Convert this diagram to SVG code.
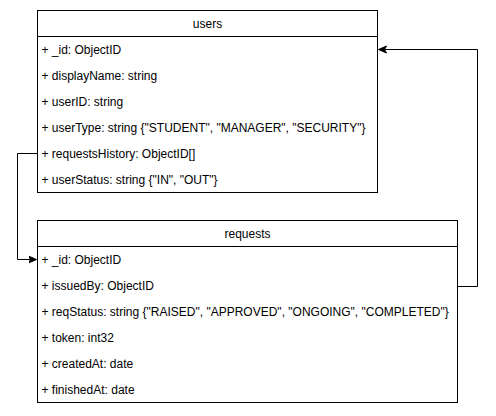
<svg xmlns="http://www.w3.org/2000/svg" width="496" height="416" viewBox="0 0 496 416">
<style>
.box{fill:#fff;stroke:#000;stroke-width:1}
.t{font-family:"Liberation Sans",Arial,Helvetica,sans-serif;font-size:12px;fill:#000;dominant-baseline:central}
.h{text-anchor:middle}
.c{fill:none;stroke:#000;stroke-width:1}
</style>
<defs>
<marker id="arr" markerUnits="userSpaceOnUse" markerWidth="10" markerHeight="10" refX="8" refY="4" orient="auto">
<path d="M0,0.5 L8,4 L0,7.5 L2,4 Z" fill="#000" stroke="#000" stroke-width="1"/>
</marker>
</defs>
<rect width="496" height="416" fill="#fff"/>
<g id="connectors">
<path class="c" d="M457.5,286.5 H477.5 V49.5 H378.5" marker-end="url(#arr)"/>
<path class="c" d="M37.5,153.5 H17.5 V259.5 H36.5" marker-end="url(#arr)"/>
</g>
<g id="users">
<rect class="box" x="37.5" y="10.5" width="340" height="182"/>
<line class="c" x1="37.5" y1="36.5" x2="377.5" y2="36.5"/>
<text class="t h" x="207.5" y="23.5">users</text>
<text class="t" x="41.5" y="49.5">+ _id: ObjectID</text>
<text class="t" x="41.5" y="75.5">+ displayName: string</text>
<text class="t" x="41.5" y="101.5">+ userID: string</text>
<text class="t" x="41.5" y="127.5">+ userType: string {"STUDENT", "MANAGER", "SECURITY"}</text>
<text class="t" x="41.5" y="153.5">+ requestsHistory: ObjectID[]</text>
<text class="t" x="41.5" y="179.5">+ userStatus: string {"IN", "OUT"}</text>
</g>
<g id="requests">
<rect class="box" x="37.5" y="220.5" width="420" height="182"/>
<line class="c" x1="37.5" y1="246.5" x2="457.5" y2="246.5"/>
<text class="t h" x="247.5" y="233.5">requests</text>
<text class="t" x="41.5" y="259.5">+ _id: ObjectID</text>
<text class="t" x="41.5" y="285.5">+ issuedBy: ObjectID</text>
<text class="t" x="41.5" y="311.5">+ reqStatus: string {"RAISED", "APPROVED", "ONGOING", "COMPLETED"}</text>
<text class="t" x="41.5" y="337.5">+ token: int32</text>
<text class="t" x="41.5" y="363.5">+ createdAt: date</text>
<text class="t" x="41.5" y="389.5">+ finishedAt: date</text>
</g>
</svg>
